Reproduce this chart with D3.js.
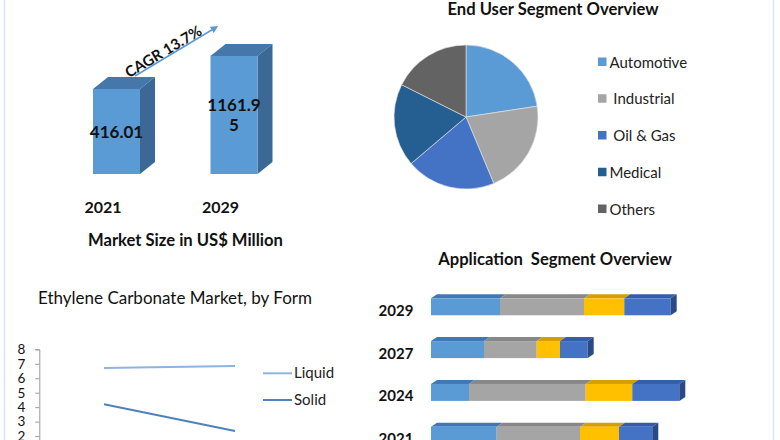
<!DOCTYPE html>
<html><head><meta charset="utf-8">
<script src="https://cdn.jsdelivr.net/npm/d3@7"></script>
<style>
html,body{margin:0;padding:0;background:#fff;}
svg{display:block;font-family:Lato,"Open Sans",sans-serif;}
</style></head><body>
<svg id="c" width="780" height="440"></svg>
<script>
// ---------- DATA ----------
const marketYears = ["2021", "2029"];
const marketValues = [416.01, 1161.95];
const cagrLabel = "CAGR 13.7%";

const endUserLabels = ["Automotive", " Industrial", " Oil & Gas", "Medical", "Others"];
const endUserShares = [22.6, 21.1, 20.1, 18.6, 17.6];

const formCategories = ["2021", "2029"];
const formLiquid = [6.7, 6.85];
const formSolid = [4.2, 2.35];
const formTicks = [2, 3, 4, 5, 6, 7, 8];

const appYears = ["2029", "2027", "2024", "2021"];
const appSeg1 = [69, 53, 38, 65.7];
const appSeg2 = [84, 52.7, 116.7, 83.3];
const appSeg3 = [40.3, 23.3, 46.6, 39];
const appSeg4 = [46.4, 27.7, 47, 33.3];

// ---------- STYLE ----------
const svg = d3.select("#c");
const blue = "#5b9bd5", gray = "#a5a5a5", dblue = "#4472c4";

// frame lines
svg.append("line").attr("x1", 4.5).attr("x2", 4.5).attr("y1", 0).attr("y2", 440)
  .attr("stroke", "#dbe6f3").attr("stroke-width", 1.5);
svg.append("line").attr("x1", 773.5).attr("x2", 773.5).attr("y1", 0).attr("y2", 440)
  .attr("stroke", "#dbe6f3").attr("stroke-width", 1.5);

// ---------- Market size 3D bars ----------
{
  const x = d3.scaleBand().domain(marketYears).range([93, 257.5]).paddingInner(0.6).paddingOuter(0);
  const y = d3.scaleLinear().domain([-1505, 1161.95]).range([174, 56]);
  const base = y.range()[0];
  const dx = 15, dy = 12;
  const g = svg.append("g");
  marketYears.forEach((yr, i) => {
    const x0 = x(yr), w = x.bandwidth(), t = y(marketValues[i]);
    g.append("path").attr("d", `M${x0},${t}L${x0+dx},${t-dy}L${x0+w+dx},${t-dy}L${x0+w},${t}Z`)
      .attr("fill", "#4677ab");
    g.append("path").attr("d", `M${x0+w},${t}L${x0+w+dx},${t-dy}L${x0+w+dx},${base-dy}L${x0+w},${base}Z`)
      .attr("fill", "#3c6896");
    g.append("rect").attr("x", x0).attr("y", t).attr("width", w).attr("height", base - t)
      .attr("fill", blue);
    const txt = String(marketValues[i]);
    const lines = txt.length > 6 ? [txt.slice(0, 6), txt.slice(6)] : [txt];
    const cy = (t + base) / 2;
    lines.forEach((ln, j) => {
      g.append("text").attr("x", x0 + w / 2).attr("y", cy + (j - (lines.length - 1) / 2) * 20 + 6)
        .attr("text-anchor", "middle").attr("font-size", 17).attr("font-weight", 700)
        .attr("fill", "#111").text(ln);
    });
    g.append("text").attr("x", x0 + w / 2 - 13.5).attr("y", 213)
      .attr("text-anchor", "middle").attr("font-size", 16).attr("font-weight", 700)
      .attr("fill", "#111").text(yr);
  });
  // CAGR arrow
  const defs = svg.append("defs");
  defs.append("marker").attr("id", "ah").attr("viewBox", "0 0 10 10").attr("refX", 5).attr("refY", 5)
    .attr("markerWidth", 5).attr("markerHeight", 5).attr("orient", "auto")
    .append("path").attr("d", "M0,0L10,5L0,10Z").attr("fill", blue);
  g.append("line").attr("x1", 135).attr("y1", 76).attr("x2", 215).attr("y2", 28)
    .attr("stroke", blue).attr("stroke-width", 1.5).attr("marker-end", "url(#ah)");
  g.append("text").attr("transform", "translate(166,56) rotate(-31)")
    .attr("text-anchor", "middle").attr("font-size", 15).attr("font-weight", 700)
    .attr("fill", "#111").text(cagrLabel);
  g.append("text").attr("x", 185.5).attr("y", 246).attr("text-anchor", "middle")
    .attr("font-size", 16.6).attr("font-weight", 700).attr("fill", "#111").text("Market Size in US$ Million");
}

// ---------- End user pie ----------
{
  const colors = [blue, gray, dblue, "#255e91", "#636363"];
  const pie = d3.pie().sort(null).value(d => d)(endUserShares);
  const arc = d3.arc().innerRadius(0).outerRadius(72);
  const g = svg.append("g").attr("transform", "translate(466,117)");
  g.selectAll("path").data(pie).join("path").attr("d", arc)
    .attr("fill", (d, i) => colors[i]).attr("stroke", "#e8e8e8").attr("stroke-width", 0.6);
  svg.append("text").attr("x", 553).attr("y", 15).attr("text-anchor", "middle")
    .attr("font-size", 16.6).attr("font-weight", 700).attr("fill", "#111").text("End User Segment Overview");
  const lg = svg.append("g");
  const ly = d3.scalePoint().domain(endUserLabels).range([62, 209]);
  endUserLabels.forEach((l, i) => {
    lg.append("rect").attr("x", 598).attr("y", ly(l) - 4.5).attr("width", 8.5).attr("height", 8.5)
      .attr("fill", colors[i]);
    lg.append("text").attr("x", 609.5).attr("y", ly(l) + 5.5).attr("font-size", 15)
      .style("white-space", "pre").attr("fill", "#222").text(l);
  });
}

// ---------- Form line chart ----------
{
  const x = d3.scalePoint().domain(formCategories).range([104, 235]);
  const y = d3.scaleLinear().domain([0, 8]).range([465, 349.3]);
  svg.append("text").attr("x", 38).attr("y", 304).attr("font-size", 17).attr("fill", "#111")
    .text("Ethylene Carbonate Market, by Form");
  const ax = svg.append("g").attr("transform", "translate(39.3,0)")
    .call(d3.axisLeft(y).tickValues(formTicks).tickFormat(d3.format("d")).tickSize(4).tickPadding(10));
  ax.select(".domain").attr("stroke", "#9a9a9a");
  ax.selectAll(".tick line").attr("stroke", "#9a9a9a");
  ax.selectAll(".tick text").attr("font-size", 13.5).attr("font-family", "Lato,sans-serif").attr("fill", "#111");
  const line = d3.line().x((d, i) => x(formCategories[i])).y(d => y(d));
  svg.append("path").attr("d", line(formLiquid)).attr("fill", "none").attr("stroke", "#8db3e2").attr("stroke-width", 2);
  svg.append("path").attr("d", line(formSolid)).attr("fill", "none").attr("stroke", "#4f81bd").attr("stroke-width", 2);
  [["Liquid", "#8db3e2", 373.3], ["Solid", "#4f81bd", 400]].forEach(([n, c, yy]) => {
    svg.append("line").attr("x1", 263).attr("x2", 292).attr("y1", yy).attr("y2", yy)
      .attr("stroke", c).attr("stroke-width", 2);
    svg.append("text").attr("x", 294).attr("y", yy + 5).attr("font-size", 15).attr("fill", "#222").text(n);
  });
}

// ---------- Application stacked 3D bars ----------
{
  const series = [appSeg1, appSeg2, appSeg3, appSeg4];
  const fronts = [blue, gray, "#ffc000", dblue];
  const tops = ["#4178b4", "#878787", "#d4a000", "#345ea8"];
  const y = d3.scaleBand().domain(appYears).range([298.3, 443.7]).paddingInner(0.603).paddingOuter(0);
  const x = d3.scaleLinear().domain([0, 250]).range([431, 681]);
  const stackData = appYears.map((yr, i) => {
    const o = { yr }; series.forEach((s, k) => o["s" + k] = s[i]); return o;
  });
  const stacked = d3.stack().keys(["s0", "s1", "s2", "s3"])(stackData);
  const g = svg.append("g");
  const dx = 6, dy = 4, h = y.bandwidth();
  stacked.forEach((layer, k) => {
    layer.forEach(d => {
      const yr = d.data.yr, x0 = x(d[0]), x1 = x(d[1]), t = y(yr);
      g.append("path").attr("d", `M${x0},${t}L${x0+dx},${t-dy}L${x1+dx},${t-dy}L${x1},${t}Z`).attr("fill", tops[k]);
      g.append("rect").attr("x", x0).attr("y", t).attr("width", x1 - x0).attr("height", h).attr("fill", fronts[k]);
      if (k === 3) {
        g.append("path").attr("d", `M${x1},${t}L${x1+dx},${t-dy}L${x1+dx},${t+h-dy}L${x1},${t+h}Z`).attr("fill", "#2a4a86");
      }
    });
  });
  appYears.forEach(yr => {
    g.append("text").attr("x", 396).attr("y", y(yr) + h / 2 + 9).attr("text-anchor", "middle")
      .attr("font-size", 15).attr("font-weight", 700).attr("fill", "#111").text(yr);
  });
  svg.append("text").attr("x", 555).attr("y", 265).attr("text-anchor", "middle")
    .attr("font-size", 16.6).attr("font-weight", 700).attr("fill", "#111").text("Application  Segment Overview")
    .style("white-space", "pre");
}
</script>
</body></html>
